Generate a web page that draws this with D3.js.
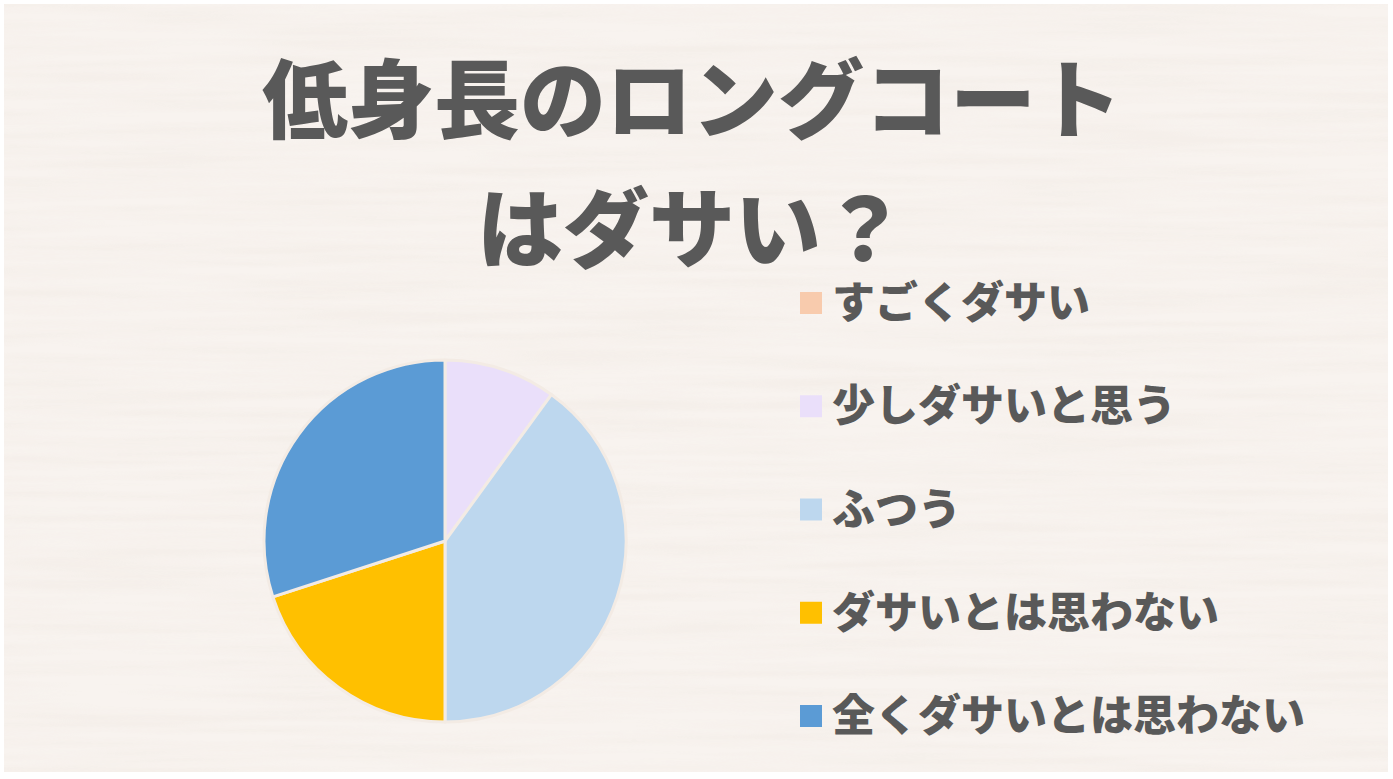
<!DOCTYPE html>
<html>
<head>
<meta charset="utf-8">
<title>低身長のロングコートはダサい？</title>
<style>
  html, body { margin: 0; padding: 0; background: #ffffff; }
  svg { display: block; }
</style>
</head>
<body>
<svg width="1393" height="779"></svg>
<script src="https://d3js.org/d3.v7.min.js"></script>
<script>
// data
var titleLines = ['低身長のロングコート', 'はダサい？'];
var categories = ['すごくダサい', '少しダサいと思う', 'ふつう', 'ダサいとは思わない', '全くダサいとは思わない'];
var values = [0, 10, 40, 20, 30];
var colors = ['#F8CBAD', '#EADFFA', '#BDD7EE', '#FFC000', '#5B9BD5'];

var svg = d3.select('svg');
var font = '"Noto Sans CJK JP", "Noto Sans", sans-serif';
var textColor = '#595959';

// background with faint horizontal grain
var defs = svg.append('defs');
var filt = defs.append('filter').attr('id', 'grain')
  .attr('x', 0).attr('y', 0).attr('width', '100%').attr('height', '100%');
filt.append('feTurbulence')
  .attr('type', 'fractalNoise')
  .attr('baseFrequency', '0.004 0.09')
  .attr('numOctaves', 3)
  .attr('seed', 7)
  .attr('result', 'noise');
filt.append('feColorMatrix')
  .attr('in', 'noise')
  .attr('type', 'matrix')
  .attr('values', '0 0 0 0 0.84  0 0 0 0 0.78  0 0 0 0 0.72  0 0 0 -1.1 0.75');

svg.append('rect')
  .attr('x', 4).attr('y', 4)
  .attr('width', 1384).attr('height', 768)
  .attr('fill', '#f8f3ef');
svg.append('rect')
  .attr('x', 4).attr('y', 4)
  .attr('width', 1384).attr('height', 768)
  .attr('fill', '#ffffff')
  .attr('filter', 'url(#grain)')
  .attr('opacity', 0.5);

// title
svg.selectAll('.title')
  .data(titleLines)
  .enter()
  .append('text')
  .attr('class', 'title')
  .text(function(d) { return d; })
  .attr('x', 692)
  .attr('y', function(d, i) { return 132 + i * 129; })
  .attr('text-anchor', 'middle')
  .attr('font-family', font)
  .attr('font-weight', 900)
  .attr('font-size', '86px')
  .attr('fill', textColor);

// pie
var cx = 445, cy = 541, r = 181;
var pie = d3.pie().sort(null).value(function(d) { return d; });
var arc = d3.arc().innerRadius(0).outerRadius(r);

var g = svg.append('g').attr('transform', 'translate(' + cx + ',' + cy + ')');
g.selectAll('path')
  .data(pie(values))
  .enter()
  .append('path')
  .attr('d', arc)
  .attr('fill', function(d, i) { return colors[i]; })
  .attr('stroke', function(d) { return d.data > 0 ? '#f3ebe4' : 'none'; })
  .attr('stroke-width', 3)
  .attr('stroke-linejoin', 'round');

// legend
var legY = d3.scalePoint().domain(categories).range([303, 716]);

var leg = svg.selectAll('.leg')
  .data(categories)
  .enter()
  .append('g')
  .attr('class', 'leg')
  .attr('transform', function(d) { return 'translate(800,' + legY(d) + ')'; });

leg.append('rect')
  .attr('x', 0).attr('y', -11)
  .attr('width', 22).attr('height', 22)
  .attr('fill', function(d, i) { return colors[i]; });

leg.append('text')
  .text(function(d) { return d; })
  .attr('x', 32)
  .attr('y', 15)
  .attr('font-family', font)
  .attr('font-weight', 900)
  .attr('font-size', '43px')
  .attr('fill', textColor);
</script>
</body>
</html>
